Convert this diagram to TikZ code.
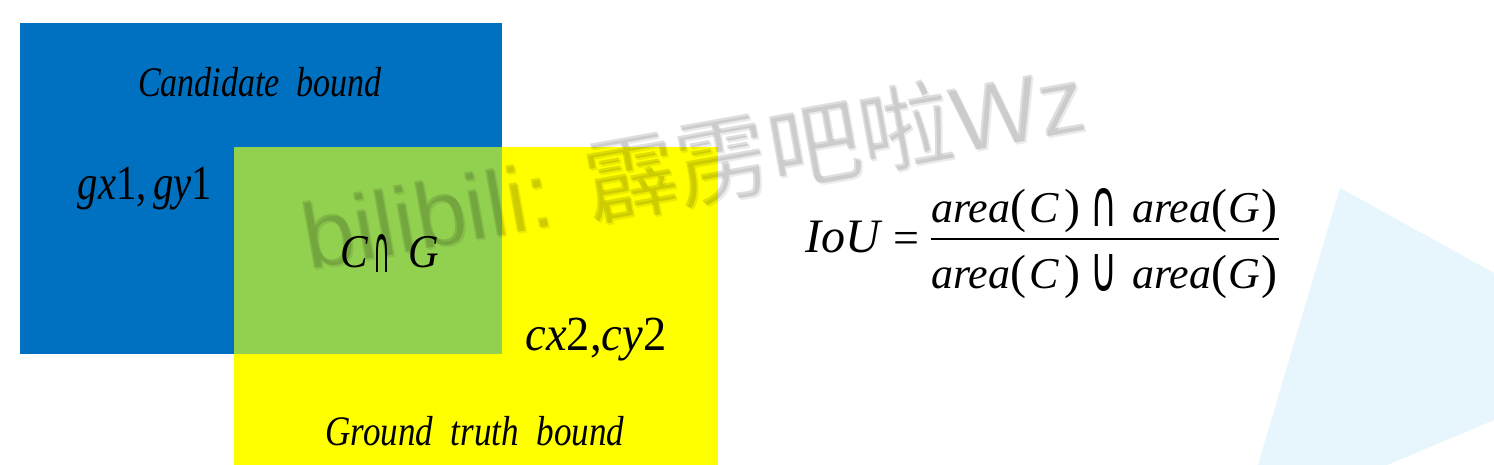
\documentclass[tikz,border=0pt]{standalone}
\usepackage{fontspec}
\setmainfont{Liberation Serif}
\newfontfamily\wmfont{Liberation Sans}
\newfontfamily\cjk{Noto Sans CJK SC}
\newfontfamily\dv{DejaVu Sans}
\definecolor{cblue}{RGB}{0,112,192}
\definecolor{cgreen}{RGB}{146,208,80}
\definecolor{cyellow}{RGB}{255,255,0}
\definecolor{ctri}{RGB}{231,246,252}
\tikzset{
  lbl/.style={inner sep=0pt, anchor=base, text=black},
  opglyph/.style={inner sep=0pt, text=black},
  wm/.style={inner sep=0pt, anchor=base west, rotate=10.2},
}
\newcommand{\fs}[1]{\fontsize{#1}{#1}\selectfont}
\newcommand{\lp}{{\fs{48}(}}
\newcommand{\rp}{{\fs{48})}}
\newcommand{\wmtext}{\fs{93}\wmfont bilibili: {\cjk 霹雳吧啦}Wz}
\begin{document}
\begin{tikzpicture}[x=1pt,y=-1pt]
\useasboundingbox (0,0) rectangle (1494,465);
\fill[white] (0,0) rectangle (1494,465);
% decorative triangle
\fill[ctri] (1340,188) -- (1494,273) -- (1494,420) -- (1387,465) -- (1258,465) -- cycle;
% boxes
\fill[cblue] (20,23) rectangle (502,354);
\fill[cyellow] (234,147) rectangle (718,465);
\fill[cgreen] (234,147) rectangle (502,354);
% labels
\node[lbl] (cand) at (260,97) {\fs{42}\scalebox{0.81}[1]{\itshape Candidate\ \ bound}};
\node[lbl] (g1) at (145,200) {\fs{49}\scalebox{0.83}[1]{\textit{gx}1,\,\textit{gy}1}};
\node[lbl] (cC) at (354,268) {\fs{47}\scalebox{0.88}[1]{\textit{C}}};
\node[opglyph, anchor=south] (cI) at (382,273) {\resizebox{17pt}{38pt}{\dv ∩}};
\node[lbl] (cG) at (424,268) {\fs{47}\scalebox{0.9}[1]{\textit{G}}};
\node[lbl] (c2) at (596,350) {\fs{49}\scalebox{0.95}[1]{\textit{cx}2,\textit{cy}2}};
\node[lbl] (gt) at (475,445) {\fs{42}\scalebox{0.835}[1]{\itshape Ground\ \ truth\ \ bound}};
% formula
\node[lbl, anchor=base west] (iou) at (805,252) {\fs{48}\textit{IoU}};
\node[lbl] (eq) at (906,254) {\fs{46}=};
\node[lbl, anchor=base west] (numL) at (931,223) {\fs{44}\textit{area}\lp\kern3pt\textit{C}\kern6pt\rp};
\node[opglyph, anchor=south] (numI) at (1104,227) {\resizebox{27pt}{38pt}{\dv ∩}};
\node[lbl, anchor=base east] (numR) at (1278,223) {\fs{44}\textit{area}\lp\kern1pt\textit{G}\kern2pt\rp};
\node[lbl, anchor=base west] (denL) at (931,288) {\fs{44}\textit{area}\lp\kern3pt\textit{C}\kern6pt\rp};
\node[opglyph, anchor=north] (denU) at (1104,254) {\resizebox{27pt}{37pt}{\dv ∪}};
\node[lbl, anchor=base east] (denR) at (1278,288) {\fs{44}\textit{area}\lp\kern1pt\textit{G}\kern2pt\rp};
\coordinate (fl) at (931,239.5);
\coordinate (fr) at (1279,239.5);
\draw[line width=2pt] (fl) -- (fr);
% watermark
\node[wm, text=black, opacity=0.08] (wms) at (310,272) {\wmtext};
\node[wm, text=black, opacity=0.13] (wmt) at (308,270) {\wmtext};
\end{tikzpicture}
\end{document}
